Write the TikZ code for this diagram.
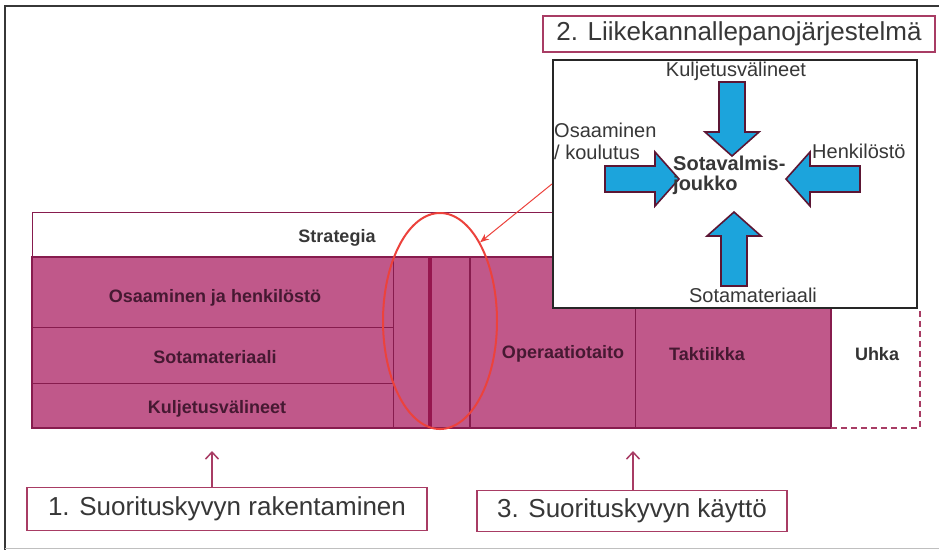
\documentclass[tikz,border=0pt]{standalone}
\usepackage{fontspec}
\setmainfont{Liberation Sans}
\usetikzlibrary{shapes.geometric,arrows.meta}
\definecolor{pinkfill}{RGB}{192,88,138}
\definecolor{pinkline}{RGB}{135,28,78}
\definecolor{thickline}{RGB}{150,22,78}
\definecolor{labeltext}{RGB}{70,25,50}
\definecolor{darktext}{RGB}{55,55,55}
\definecolor{boxline}{RGB}{168,60,100}
\definecolor{redline}{RGB}{236,66,60}
\definecolor{bluefill}{RGB}{28,164,220}
\definecolor{arrowline}{RGB}{92,22,52}
\begin{document}
\begin{tikzpicture}[x=1pt,y=-1pt,>={Straight Barb[length=7pt,width=13pt]},
  rowlabel/.style={font=\fontsize{18}{18}\selectfont\bfseries,text=labeltext},
  insetlabel/.style={font=\fontsize{20}{22}\selectfont,text=darktext,inner sep=1pt},
  numbox/.style={draw=boxline,line width=1.5pt,fill=white,font=\fontsize{26}{26}\selectfont,text=darktext,inner sep=0pt},
  bluearrow/.style={fill=bluefill,draw=arrowline,line width=1.6pt,line join=miter},
  pics/fatarrow/.style={code={\draw[bluearrow] (-13,0)--(-13,50)--(-27,50)--(0,74)--(27,50)--(13,50)--(13,0)--cycle;}}]
\useasboundingbox (0,0) rectangle (939,550);
% frame
\draw[line width=2pt,darktext] (939,6)--(5,6)--(5,550);
\draw[line width=1pt,gray!50] (5,548)--(939,548);
% strategia and the pink bar
\draw[pinkline,fill=white] (32,212) rectangle (912,257);
\node[rowlabel,text=darktext] (strat) at (337,238) {Strategia};
\draw[pinkline,line width=1.2pt,fill=pinkfill] (32,257) rectangle (831,428);
\foreach \y in {327,383} \draw[pinkline] (32,\y)--(393,\y);
\foreach \x/\w in {393/0.8pt,470/1.2pt,635/0.8pt} \draw[pinkline,line width=\w] (\x,257)--(\x,428);
\draw[thickline,line width=4pt] (430,257)--(430,428);
\draw[boxline,line width=1.5pt,dash pattern=on 6pt off 4pt] (831,428)--(920,428)--(920,310);
\node[rowlabel] (osaa) at (215,298) {Osaaminen ja henkilöstö};
\node[rowlabel] (mat) at (215,357) {Sotamateriaali};
\node[rowlabel] (kulj) at (217,409) {Kuljetusvälineet};
\node[rowlabel] (oper) at (563,354) {Operaatiotaito};
\node[rowlabel] (takt) at (707,354) {Taktiikka};
\node[rowlabel,text=black!80] (uhka) at (877,354) {Uhka};
\node[ellipse,draw=redline,line width=2pt,minimum width=114,minimum height=216,inner sep=0pt] (focus) at (440,321) {};
% mobilisation inset
\node[draw=black!85,line width=2.2pt,fill=white,minimum width=364,minimum height=248,inner sep=0pt] (mob) at (735,184) {};
\pic at (732,82) {fatarrow};
\pic[rotate=90] at (605,179) {fatarrow};
\pic[rotate=-90] at (860,179) {fatarrow};
\pic[rotate=180] at (734,286) {fatarrow};
\node[insetlabel] (ikulj) at (736,71) {Kuljetusvälineet};
\node[insetlabel,anchor=west,align=left] (iosaa) at (553,141) {Osaaminen\\/ koulutus};
\node[insetlabel,anchor=west] (ihenk) at (811,151) {Henkilöstö};
\node[insetlabel,anchor=west,align=left,font=\fontsize{20}{20}\selectfont\bfseries] (joukko) at (672,175) {Sotavalmis-\\joukko};
\node[insetlabel] (imat) at (753,295) {Sotamateriaali};
\node[numbox,minimum width=392,minimum height=36] (lkj) at (739,34) {2. Liikekannallepanojärjestelmä};
\draw[redline,line width=1pt,-{Stealth[length=9pt,width=7pt]}] (mob.west)--(focus.63);
% bottom boxes
\node[numbox,minimum width=400,minimum height=43] (rak) at (227,509) {1. Suorituskyvyn rakentaminen};
\node[numbox,minimum width=310,minimum height=41] (kay) at (632,511) {3. Suorituskyvyn käyttö};
\coordinate (rakto) at (212,451);
\coordinate (kayto) at (633,451);
\draw[->,boxline,line width=1.5pt] (rak.north -| rakto)--(rakto);
\draw[->,boxline,line width=1.5pt] (kay.north -| kayto)--(kayto);
\end{tikzpicture}
\end{document}
